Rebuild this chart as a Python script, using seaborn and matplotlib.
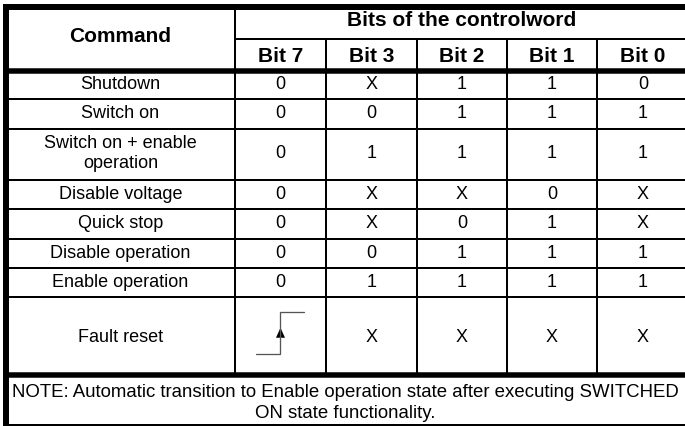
import matplotlib
matplotlib.use("Agg")
import matplotlib.pyplot as plt
import seaborn as sns

# table content
commands = [
    "Shutdown",
    "Switch on",
    "Switch on + enable\noperation",
    "Disable voltage",
    "Quick stop",
    "Disable operation",
    "Enable operation",
    "Fault reset",
]
bit_labels = ["Bit 7", "Bit 3", "Bit 2", "Bit 1", "Bit 0"]
bit7 = ["0", "0", "0", "0", "0", "0", "0", "edge"]
bit3 = ["X", "0", "1", "X", "X", "0", "1", "X"]
bit2 = ["1", "1", "1", "X", "0", "1", "1", "X"]
bit1 = ["1", "1", "1", "0", "1", "1", "1", "X"]
bit0 = ["0", "1", "1", "X", "X", "1", "1", "X"]
title_left = "Command"
title_right = "Bits of the controlword"
note = ("NOTE: Automatic transition to Enable operation state after executing SWITCHED\n"
        "ON state functionality.")

# layout in pixels (figure is 685 x 427)
col_edges = [6, 235, 326, 417, 507, 597, 689]
row_edges = [72, 100, 129.5, 180.5, 210, 240, 268.5, 298, 375.5]
head_top, head_mid = 8, 40
bottom = 425.5

sns.set_theme(style="white")
plt.rcParams["font.family"] = ["Liberation Sans", "DejaVu Sans"]

W, H, DPI = 685, 427, 100
fig = plt.figure(figsize=(W / DPI, H / DPI), dpi=DPI)
ax = fig.add_axes([0, 0, 1, 1])
ax.set_xlim(0, W)
ax.set_ylim(H, 0)
ax.axis("off")

px = 72 / DPI  # points per pixel
thin, thick = 2 * px, 5.5 * px


def hline(y, x0, x1, lw):
    ax.plot([x0, x1], [y, y], color="black", lw=lw, solid_capstyle="butt")


def vline(x, y0, y1, lw):
    ax.plot([x, x], [y0, y1], color="black", lw=lw, solid_capstyle="butt")


def cell_text(x, yc, text, size, bold=False, lead=20, shift=-3):
    lines = text.split("\n")
    cap = 0.716 * size / px
    first = yc + shift - (len(lines) - 1) * lead / 2 + cap / 2
    for i, line in enumerate(lines):
        ax.text(x, first + i * lead, line, ha="center", va="baseline",
                fontsize=size, fontweight="bold" if bold else "normal",
                color="black")


# grid
hline(head_top, 3, W, 6 * px)
vline(col_edges[0], 5, bottom + 1, 6 * px)
hline(head_mid, col_edges[1], W, thin)
hline(row_edges[0], col_edges[0], W, thick)
for y in row_edges[1:-1]:
    hline(y, col_edges[0], W, thin)
hline(row_edges[-1], col_edges[0], W, thick)
hline(bottom, col_edges[0], W, thin)
vline(col_edges[1], head_top, row_edges[-1], thin)
for x in col_edges[2:-1]:
    vline(x, head_mid, row_edges[-1], thin)

# header
body_fs, head_fs, note_fs = 13, 15, 13.4
cx = [(a + b) / 2 for a, b in zip(col_edges[:-1], col_edges[1:])]
cell_text(cx[0], (head_top + row_edges[0]) / 2, title_left, head_fs, bold=True, shift=-5)
cell_text((col_edges[1] + col_edges[-1]) / 2, (head_top + head_mid) / 2, title_right,
          head_fs, bold=True, shift=-5)
for x, lab in zip(cx[1:], bit_labels):
    cell_text(x, (head_mid + row_edges[0]) / 2, lab, head_fs, bold=True, shift=-1)

# body
columns = [bit7, bit3, bit2, bit1, bit0]
for r, cmd in enumerate(commands):
    yc = (row_edges[r] + row_edges[r + 1]) / 2
    shift = -1 if r == len(commands) - 1 else -3
    cell_text(cx[0], yc, cmd, body_fs, shift=shift)
    for x, col in zip(cx[1:], columns):
        val = col[r]
        if val == "edge":
            # rising edge symbol
            ax.plot([x - 24, x, x, x + 24], [yc + 18, yc + 18, yc - 24, yc - 24],
                    color="#555555", lw=1.3 * px, solid_joinstyle="miter")
            ax.fill([x - 4.5, x + 4.5, x], [yc + 2, yc + 2, yc - 8], color="black", lw=0)
        else:
            cell_text(x, yc, val, body_fs, shift=shift)

# note
cell_text(345, (row_edges[-1] + bottom) / 2, note, note_fs, lead=21, shift=0)

fig.savefig("out.png", dpi=DPI)
